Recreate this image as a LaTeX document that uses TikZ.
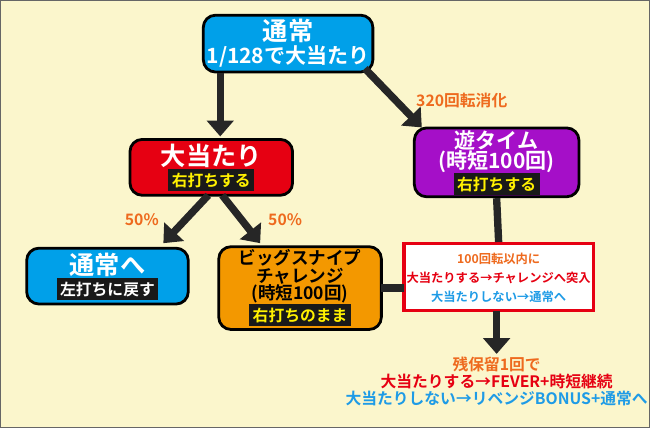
\documentclass[tikz,border=0pt]{standalone}
\usepackage{fontspec}
\setmainfont{Noto Sans CJK JP}[BoldFont={Noto Sans CJK JP Bold}]
\usetikzlibrary{arrows.meta}
\definecolor{bgcream}{HTML}{FBF6CC}
\definecolor{boxblue}{HTML}{00A0E9}
\definecolor{boxred}{HTML}{E60012}
\definecolor{boxpurple}{HTML}{A50FC8}
\definecolor{boxorange}{HTML}{F39800}
\definecolor{txtorange}{HTML}{EE6A1E}
\definecolor{txtred}{HTML}{E60012}
\definecolor{txtblue}{HTML}{1E9BE6}
\definecolor{txtyellow}{HTML}{FFF100}
\tikzset{
	box/.style={draw=black, line width=1.6pt, rounded corners=7pt, font=\bfseries},
	strip/.style={fill=black!90, text=txtyellow, inner sep=2pt, font=\bfseries\small},
	flow/.style={line width=4.2pt, color=black!85, -{Triangle[length=9pt,width=15pt]}},
	link/.style={line width=4.2pt, color=black!85},
	note/.style={text=txtorange, font=\bfseries\scriptsize},
	line/.style={inner sep=0pt, font=\bfseries}
}
\begin{document}
\begin{tikzpicture}[x=0.02cm,y=-0.02cm]

	\fill[bgcream, draw=black!60, line width=0.8pt] (0,0) rectangle (650,428);

	\node 	(e0)	at	(288,43) 	[box, fill=boxblue, minimum width=3.4cm, minimum height=1.14cm]{};
	\node 	(e0a)	at	(288,30) 	[line, text=white, font=\bfseries\Large]{通常};
	\node 	(e0b)	at	(288,56) 	[line, text=white, font=\bfseries\large]{1/128で大当たり};

	\node 	(e1)	at	(211,167) 	[box, fill=boxred, minimum width=3.26cm, minimum height=1.12cm]{};
	\node 	(e1a)	at	(211,156) 	[line, text=white, font=\bfseries\Large]{大当たり};
	\node 	(e1b)	at	(211,180) 	[strip]{右打ちする};

	\node 	(e2)	at	(497,162) 	[box, fill=boxpurple, minimum width=3.3cm, minimum height=1.38cm]{};
	\node 	(e2a)	at	(497,140) 	[line, text=white, font=\bfseries\large]{遊タイム};
	\node 	(e2b)	at	(497,161) 	[line, text=white, font=\bfseries\large]{(時短100回)};
	\node 	(e2c)	at	(497,184) 	[strip]{右打ちする};

	\node 	(e3)	at	(107,276) 	[box, fill=boxblue, minimum width=3.24cm, minimum height=1.12cm]{};
	\node 	(e3a)	at	(107,265) 	[line, text=white, font=\bfseries\Large]{通常へ};
	\node 	(e3b)	at	(107,289) 	[strip, text=white]{左打ちに戻す};

	\node 	(e4)	at	(300,288) 	[box, fill=boxorange, minimum width=3.26cm, minimum height=1.66cm]{};
	\node 	(e4a)	at	(300,258) 	[line]{ビッグスナイプ};
	\node 	(e4b)	at	(300,276) 	[line]{チャレンジ};
	\node 	(e4c)	at	(300,294) 	[line]{(時短100回)};
	\node 	(e4d)	at	(300,315) 	[strip]{右打ちのまま};

	\node 	(e5)	at	(499,277) 	[draw=txtred, line width=2pt, fill=white, minimum width=3.8cm, minimum height=1.34cm]{};
	\node 	(e5a)	at	(499,259) 	[line, text=txtorange, font=\bfseries\scriptsize]{100回転以内に};
	\node 	(e5b)	at	(499,278) 	[line, text=txtred, font=\bfseries\scriptsize]{大当たりする→チャレンジへ突入};
	\node 	(e5c)	at	(499,297) 	[line, text=txtblue, font=\bfseries\scriptsize]{大当たりしない→通常へ};

	\node 	(e6a)	at	(497,364) 	[line, text=txtorange, font=\bfseries\small]{残保留1回で};
	\node 	(e6b)	at	(497,382) 	[line, text=txtred, font=\bfseries\small]{大当たりする→FEVER+時短継続};
	\node 	(e6c)	at	(497,399) 	[line, text=txtblue, font=\bfseries\small]{大当たりしない→リベンジBONUS+通常へ};

	\coordinate (c0) at (220,72);
	\coordinate (c1) at (220,136);
	\coordinate (c2) at (365,68);
	\coordinate (c3) at (422,127);
	\coordinate (c4) at (208,195);
	\coordinate (c5) at (163,243);
	\coordinate (c6) at (222,195);
	\coordinate (c7) at (260,243);
	\coordinate (c8) at (497,311);
	\coordinate (c9) at (497,354);
	\coordinate (c10) at (381,288);
	\coordinate (c11) at (404,288);

	\draw[flow]	(c0)	to	(c1);
	\draw[flow]	(c2)	to	node[note, right=6pt, pos=0.55, font=\bfseries\small]{320回転消化}	(c3);
	\draw[flow]	(c4)	to	node[note, left=10pt, font=\bfseries\small]{50\%}	(c5);
	\draw[flow]	(c6)	to	node[note, right=10pt, font=\bfseries\small]{50\%}	(c7);
	\draw[link]	(c10)	to	(c11);
	\draw[link]	(e2.south)	to	(e5.north);
	\draw[flow]	(c8)	to	(c9);

\end{tikzpicture}
\end{document}
